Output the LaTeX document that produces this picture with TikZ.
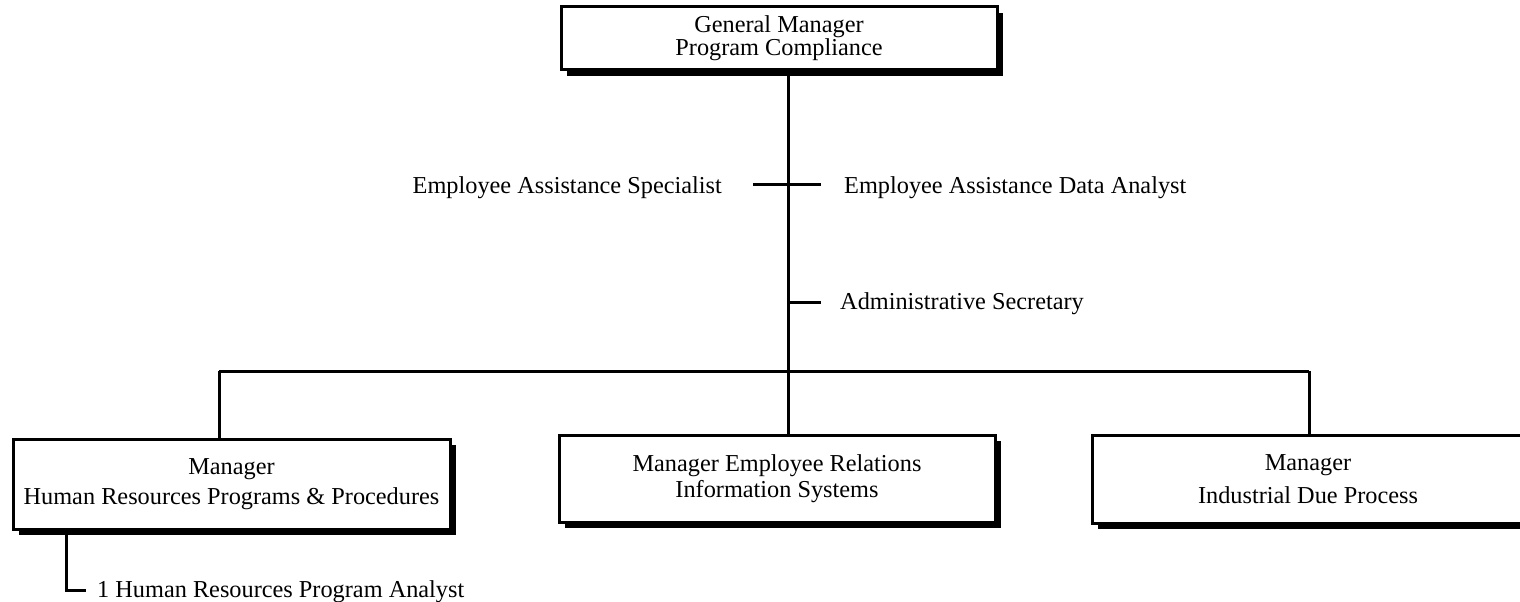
\documentclass[tikz,border=0pt]{standalone}
\usepackage{fontspec}
\setmainfont{Liberation Serif}
\usetikzlibrary{positioning,shadows}
\newcommand{\orgfont}[1]{\fontsize{24.3}{#1}\selectfont}
\tikzset{
  box style/.style={rectangle, draw, line width=3pt, fill=white, align=center, inner sep=0pt,
    drop shadow={shadow xshift=6pt, shadow yshift=-6pt, fill=black, opacity=1}},
  line style/.style={line width=3pt},
  lbl style/.style={inner sep=0pt, font=\orgfont{29}}
}
\begin{document}
\begin{tikzpicture}[x=1pt, y=-1pt]
\useasboundingbox (0,0) rectangle (1520,602);
\fill[white] (0,0) rectangle (1520,602);
% boxes
\node[box style, minimum width=436pt, minimum height=63pt, font=\orgfont{23}] (gm) at (779,38.5) {General Manager\\Program Compliance};
\node[box style, minimum width=437pt, minimum height=90pt, font=\orgfont{30}] (hr) at (231.5,484) {Manager\\Human Resources Programs \& Procedures};
\node[box style, minimum width=436pt, minimum height=87pt, font=\orgfont{26}] (er) at (777,478.5) {Manager Employee Relations\\Information Systems};
\node[box style, minimum width=432pt, minimum height=88pt, font=\orgfont{33}] (idp) at (1308,479) {Manager\\Industrial Due Process};
% staff labels
\node[lbl style, anchor=base east] (eas) at (722,193) {Employee Assistance Specialist};
\node[lbl style, anchor=base west] (eada) at (844,193) {Employee Assistance Data Analyst};
\node[lbl style, anchor=base west] (sec) at (840,309) {Administrative Secretary};
\node[lbl style, anchor=base west] (hrpa) at (97,597) {1 Human Resources Program Analyst};
% connectors
\coordinate (trunk) at (788,371);
\coordinate (barL) at (219,371);
\coordinate (barR) at (1309,371);
\coordinate (easL) at (753,184);
\coordinate (easR) at (821,184);
\coordinate (secR) at (821,302);
\coordinate (hrDrop) at (66,529);
\coordinate (hrpaR) at (86,590);
\draw[line style] (gm.south -| trunk) -- (er.north -| trunk);
\draw[line style] (barL) -- (barR);
\draw[line style] (barL) -- (barL |- hr.north);
\draw[line style] (barR) -- (barR |- idp.north);
\draw[line style] (easL) -- (easR);
\draw[line style] (trunk |- secR) -- (secR);
\draw[line style] (hrDrop) |- (hrpaR);
\end{tikzpicture}
\end{document}
